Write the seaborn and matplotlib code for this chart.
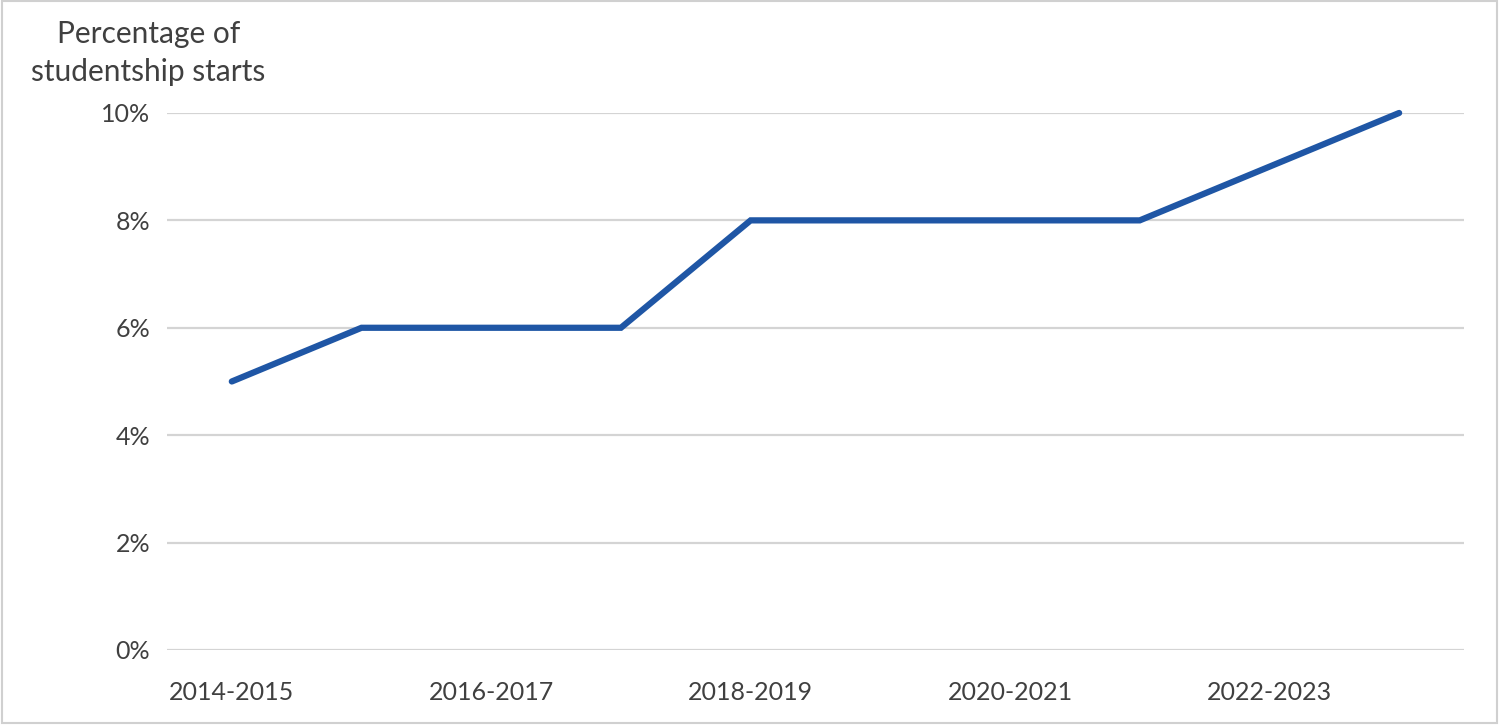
import matplotlib.pyplot as plt
import pandas as pd
import seaborn as sns

# Academic years and share of studentship starts (%)
years = ['2014-2015', '2015-2016', '2016-2017', '2017-2018', '2018-2019',
         '2019-2020', '2020-2021', '2021-2022', '2022-2023', '2023-2024']
share = [5, 6, 6, 6, 8, 8, 8, 8, 9, 10]
y_ticks = [0, 2, 4, 6, 8, 10]
y_labels = ['0%', '2%', '4%', '6%', '8%', '10%']

df = pd.DataFrame({'year': years, 'share': share})

sns.set_theme(style='white')
plt.rcParams['font.family'] = ['Lato', 'DejaVu Sans']
text_color = '#404040'

fig = plt.figure(figsize=(15, 7.26), dpi=100)
ax = fig.add_axes([0.1113, 0.1047, 0.8647, 0.7397])

sns.lineplot(data=df, x='year', y='share', sort=False, color='#1F56A5',
             linewidth=4.5, solid_capstyle='round', solid_joinstyle='miter',
             ax=ax, clip_on=False, zorder=3)

ax.set_xlim(-0.5, len(years) - 0.5)
ax.set_ylim(0, 10)
ax.set_yticks(y_ticks)
ax.set_yticklabels(y_labels)
ax.set_xticks(range(0, len(years), 2))
ax.set_xticklabels(years[::2])
ax.grid(axis='y', color='#D4D4D4', linewidth=1.6)
ax.grid(axis='x', visible=False)
for s in ax.spines.values():
    s.set_visible(False)
ax.tick_params(axis='both', length=0, labelsize=18, labelcolor=text_color)
ax.tick_params(axis='x', pad=22)
ax.tick_params(axis='y', pad=12)
ax.set_xlabel('')
ax.set_ylabel('')

fig.text(0.099, 0.972, 'Percentage of\nstudentship starts', ha='center', va='top',
         fontsize=21.5, color=text_color, linespacing=1.4)

# light frame around the figure
fig.patches.append(plt.Rectangle((0.001, 0.004), 0.997, 0.994, transform=fig.transFigure,
                                 fill=False, edgecolor='#D0D0D0', linewidth=1.5))

fig.savefig('out.png', dpi=100)
